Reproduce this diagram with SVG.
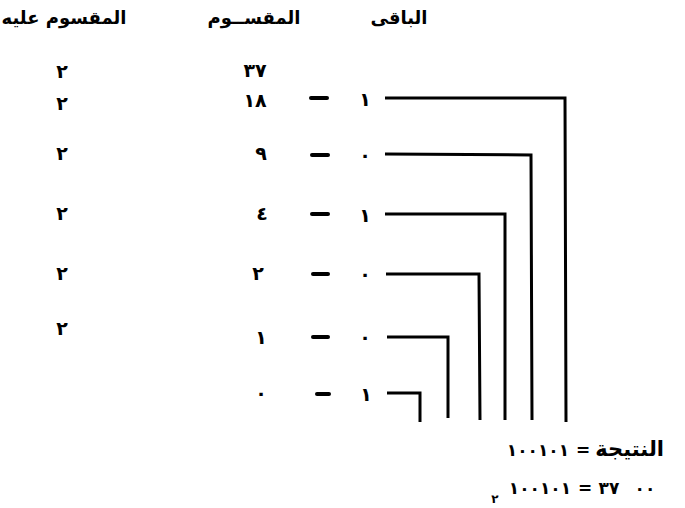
<svg xmlns="http://www.w3.org/2000/svg" width="685" height="508" viewBox="0 0 685 508">
<style>
text{font-family:"DejaVu Sans","Liberation Sans",sans-serif;font-weight:bold;fill:#000}
.h{font-size:18px}
.n{font-size:19px;text-anchor:middle}
.r{font-size:17px}
.ln{fill:none;stroke:#000;stroke-width:3;stroke-linejoin:miter}
.d{stroke:#000;stroke-width:4;stroke-linecap:round}
</style>
<rect width="685" height="508" fill="#fff"/>
<g id="headers">
<text class="h" x="64" y="24" text-anchor="middle">المقسوم عليه</text>
<text class="h" x="254" y="24" text-anchor="middle">المقســوم</text>
<text class="h" x="399" y="24" text-anchor="middle">الباقى</text>
</g>
<g id="row0">
<text class="n" x="62" y="78">٢</text>
<text class="n" x="255" y="77">٣٧</text>
</g>
<g id="row1">
<text class="n" x="62" y="110">٢</text>
<text class="n" x="255" y="107">١٨</text>
<line class="d" x1="311" y1="98" x2="327" y2="98"/>
<text class="n" x="365" y="106">١</text>
</g>
<g id="row2">
<text class="n" x="62" y="160">٢</text>
<text class="n" x="261" y="160">٩</text>
<line class="d" x1="312" y1="155" x2="328" y2="155"/>
<text class="n" x="365" y="162">٠</text>
</g>
<g id="row3">
<text class="n" x="62" y="220">٢</text>
<text class="n" x="262" y="220">٤</text>
<line class="d" x1="312" y1="214" x2="328" y2="214"/>
<text class="n" x="365" y="222">١</text>
</g>
<g id="row4">
<text class="n" x="62" y="280">٢</text>
<text class="n" x="258" y="280">٢</text>
<line class="d" x1="313" y1="274" x2="328" y2="274"/>
<text class="n" x="365" y="281">٠</text>
</g>
<g id="row5">
<text class="n" x="62" y="335">٢</text>
<text class="n" x="261" y="344">١</text>
<line class="d" x1="313" y1="337" x2="328" y2="337"/>
<text class="n" x="365" y="344">٠</text>
</g>
<g id="row6">
<text class="n" x="261" y="400">٠</text>
<line class="d" x1="317" y1="394" x2="329" y2="394"/>
<text class="n" x="366" y="401">١</text>
</g>
<g id="connectors">
<polyline class="ln" points="385,98 565,98 566,422"/>
<polyline class="ln" points="385,154 531,155 532,420"/>
<polyline class="ln" points="385,214 505,214 505,420"/>
<polyline class="ln" points="386,274 479,274 480,420"/>
<polyline class="ln" points="387,337 448,337 448,418"/>
<polyline class="ln" points="387,393 420,393 420,422"/>
</g>
<g id="result">
<text class="r" x="538" y="456" text-anchor="middle">١٠٠١٠١</text>
<text class="r" x="583" y="456" text-anchor="middle">=</text>
<text style="font-size:21px" x="664" y="456" text-anchor="end">النتيجة</text>
<text class="r" x="540" y="494" text-anchor="middle">١٠٠١٠١</text>
<text style="font-size:12px" x="495" y="503" text-anchor="middle">٢</text>
<text class="r" x="585" y="494" text-anchor="middle">=</text>
<text class="r" x="609" y="494" text-anchor="middle">٣٧</text>
<text class="r" x="645" y="494" text-anchor="middle">٠٠</text>
</g>
</svg>
